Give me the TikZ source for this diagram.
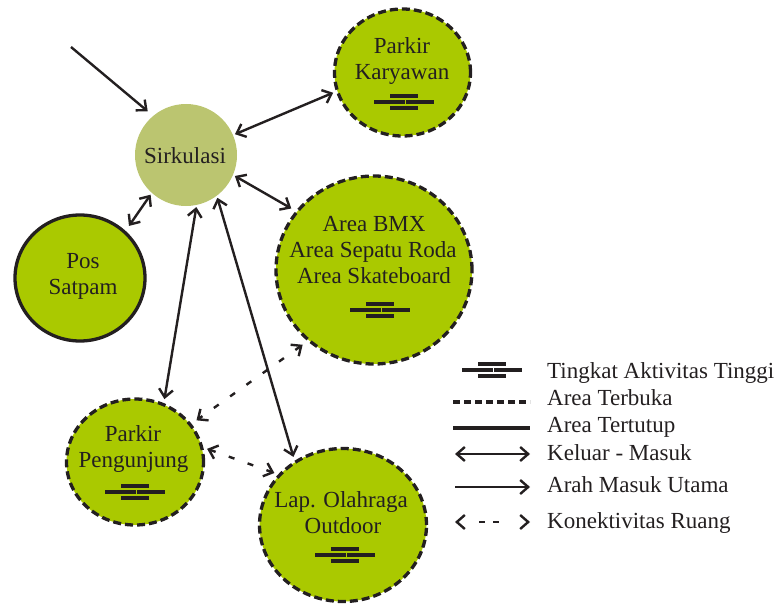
\documentclass[tikz,border=0pt]{standalone}
\usepackage{fontspec}
\setmainfont{Liberation Serif}
\usetikzlibrary{arrows.meta,shapes.geometric}
\definecolor{grn}{RGB}{170,201,0}
\definecolor{sirk}{RGB}{187,197,112}
\definecolor{ink}{RGB}{35,31,32}
\tikzset{
  actsym/.pic={
    \fill[ink] (-14,-7.6) rectangle (14,-4.2);
    \fill[ink] (-30,-1.7) rectangle (0.5,1.7);
    \fill[ink] (2,-1.7) rectangle (30,1.7);
    \fill[ink] (-14,4.2) rectangle (14,7.6);
  },
  >={Straight Barb[length=8pt,width=14pt]}
}
\begin{document}
\begin{tikzpicture}[x=1pt,y=-1pt,
  zone/.style={ellipse, fill=grn, draw=ink, line width=3.3pt, inner sep=0pt},
  openring/.style={dash pattern=on 8pt off 4pt},
  lbl/.style={font=\fontsize{23}{26}\selectfont, text=ink, anchor=base, inner sep=0pt},
  leg/.style={lbl, anchor=base west},
  conn/.style={draw=ink, line width=2.4pt},
  dotconn/.style={conn, dash pattern=on 6pt off 14pt}
]
\useasboundingbox (0,0) rectangle (783,607);

% nodes
\node[circle, fill=sirk, minimum size=102pt, inner sep=0pt] (S) at (186,155) {};
\node[zone, openring, minimum width=136pt, minimum height=127pt] (K) at (402.5,72.5) {};
\node[zone, openring, minimum width=196pt, minimum height=188pt] (B) at (374,270) {};
\node[zone, minimum width=130pt, minimum height=126pt] (P) at (80,278) {};
\node[zone, openring, minimum width=137pt, minimum height=126pt] (G) at (135,462) {};
\node[zone, openring, minimum width=167pt, minimum height=153pt] (L) at (343,525) {};

% labels
\node[lbl] (tS) at (185,163) {Sirkulasi};
\node[lbl] (tK1) at (402,54) {Parkir};
\node[lbl] (tK2) at (402,80) {Karyawan};
\node[lbl] (tB1) at (374,231) {Area BMX};
\node[lbl] (tB2) at (373,257) {Area Sepatu Roda};
\node[lbl] (tB3) at (374,283) {Area Skateboard};
\node[lbl] (tP1) at (83,268) {Pos};
\node[lbl] (tP2) at (83,294) {Satpam};
\node[lbl] (tG1) at (133,441) {Parkir};
\node[lbl] (tG2) at (133.5,467) {Pengunjung};
\node[lbl] (tL1) at (341,507) {Lap. Olahraga};
\node[lbl] (tL2) at (343,533) {Outdoor};

% activity symbols
\pic (aK) at (404,102) {actsym};
\pic (aB) at (380,310) {actsym};
\pic (aG) at (135,492) {actsym};
\pic (aL) at (345,555) {actsym};

% connectors
\coordinate (entry) at (71,47);
\draw[conn,->,shorten >=7pt] (entry) -- (S.130);
\draw[conn,<->,shorten <=2pt,shorten >=3pt] (S.23) -- (K.196);
\draw[conn,<->,shorten <=2pt,shorten >=5pt] (S.337) -- (B.143);
\draw[conn,<->,shorten <=2pt,shorten >=6pt] (S.228) -- (P.46);
\draw[conn,<->,shorten <=2pt,shorten >=4pt] (S.282) -- (G.64);
\draw[conn,<->,shorten <=2pt,shorten >=4pt] (S.307) -- (L.127);
\draw[dotconn,<->,shorten <=6pt,shorten >=6pt] (B.227) -- (G.34);
\draw[dotconn,<->,shorten <=4pt,shorten >=4pt] (G.12) -- (L.142);

% legend
\pic (aLeg) at (492,370) {actsym};
\coordinate (l1a) at (453,402); \coordinate (l1b) at (530,402);
\coordinate (l2a) at (453,428); \coordinate (l2b) at (530,428);
\coordinate (l3a) at (455,454); \coordinate (l3b) at (530,454);
\coordinate (l4a) at (455,487); \coordinate (l4b) at (530,487);
\coordinate (l5a) at (455,522); \coordinate (l5b) at (530,522);
\draw[ink, line width=3.3pt, dash pattern=on 7pt off 4pt] (l1a) -- (l1b);
\draw[ink, line width=3.3pt] (l2a) -- (l2b);
\draw[conn,<->] (l3a) -- (l3b);
\draw[conn,->] (l4a) -- (l4b);
\draw[conn,<->, dash pattern=on 0pt off 21pt on 6pt off 8pt on 6pt off 40pt] (l5a) -- (l5b);

\node[leg] (g1) at (547,378) {Tingkat Aktivitas Tinggi};
\node[leg] (g2) at (547,405) {Area Terbuka};
\node[leg] (g3) at (547,432) {Area Tertutup};
\node[leg] (g4) at (547,460) {Keluar - Masuk};
\node[leg] (g5) at (547,492) {Arah Masuk Utama};
\node[leg] (g6) at (547,528) {Konektivitas Ruang};
\end{tikzpicture}
\end{document}
